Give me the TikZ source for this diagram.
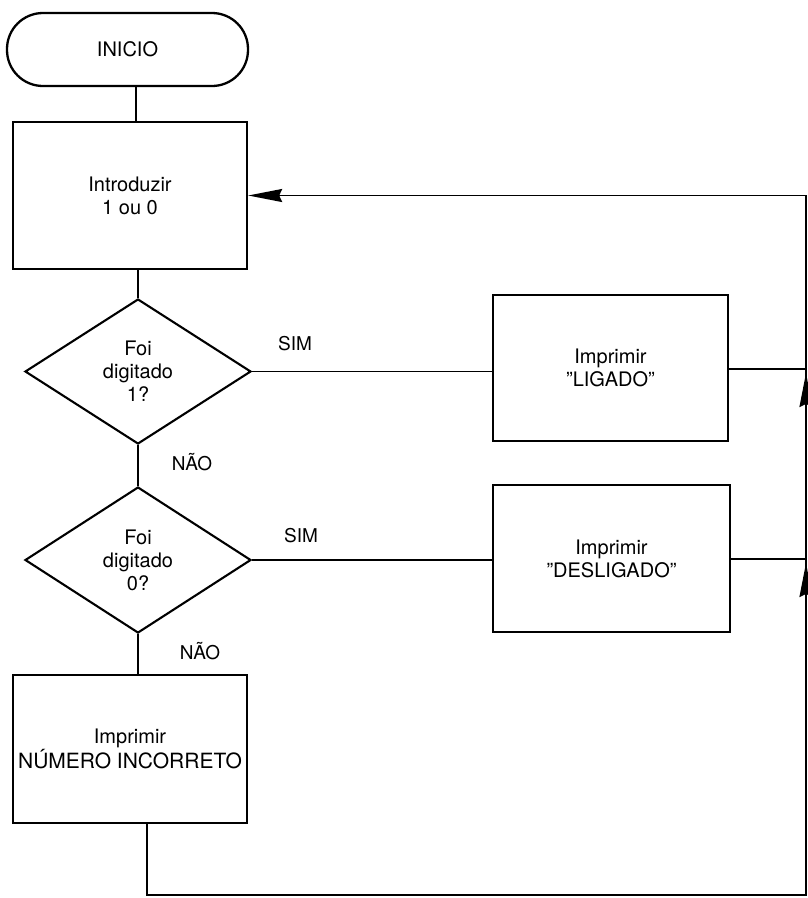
\documentclass[tikz,border=0pt]{standalone}
\usepackage{fontspec}
\setmainfont{TeX Gyre Heros}
\usetikzlibrary{shapes.geometric,arrows.meta,calc}
\begin{document}
\begin{tikzpicture}[x=1pt,y=-1pt,
  every node/.style={font=\fontsize{20}{23}\selectfont, align=center},
  boxstyle/.style={draw, line width=2.3pt, rectangle, inner sep=0pt},
  termstyle/.style={draw, line width=2.3pt, rectangle, rounded corners=36pt, inner sep=0pt},
  decstyle/.style={draw, line width=2.1pt, diamond, inner sep=0pt},
  conn/.style={line width=1.9pt},
  tip/.style={-{Stealth[length=34pt,width=13pt,inset=3pt]}},
  lbl/.style={font=\fontsize{19}{22}\selectfont}
]
\useasboundingbox[fill=white] (0,0) rectangle (808,898);

\node[termstyle, minimum width=241pt, minimum height=73pt] (ini) at (127.5,49.5) {INICIO};
\node[boxstyle, minimum width=234pt, minimum height=147pt] (intro) at (130,195.5) {Introduzir\\1 ou 0};
\node[decstyle, minimum width=226pt, minimum height=145pt] (d1) at (138,371.5) {Foi\\digitado\\1?};
\node[decstyle, minimum width=226pt, minimum height=146pt] (d2) at (138,560) {Foi\\digitado\\0?};
\node[boxstyle, minimum width=235pt, minimum height=146pt] (l1) at (610.5,368) {Imprimir\\''LIGADO''};
\node[boxstyle, minimum width=237pt, minimum height=147pt] (l2) at (611.5,558.5) {Imprimir\\''DESLIGADO''};
\node[boxstyle, minimum width=234pt, minimum height=148pt] (num) at (130,749) {Imprimir\\{\fontsize{21}{23}\selectfont NÚMERO INCORRETO}};

\coordinate (j1) at (806,369);
\coordinate (j2) at (806,559);
\coordinate (bl) at (147,895);
\coordinate (br) at (806,895);

% vertical connectors
\draw[conn] (ini.south -| 136,0) -- (intro.north -| 136,0);
\draw[conn] (d1.north) -- (d1.north |- intro.south);
\draw[conn] (d1.south) -- (d2.north);
\draw[conn] (d2.south) -- (d2.south |- num.north);

% yes branches
\draw[conn] (d1.east) -- (d1.east -| l1.west);
\draw[conn] (d2.east) -- (d2.east -| l2.west);
\draw[conn] (l1.east |- j1) -- (j1);
\draw[conn] (l2.east |- j2) -- (j2);

% labels
\node[lbl] at (295,344) {SIM};
\node[lbl] at (301,536) {SIM};
\node[lbl] at (192,462) {NÃO};
\node[lbl] at (200,651) {NÃO};

% return path
\draw[conn, tip] (num.south -| bl) -- (bl) -- (br) -- (br |- intro.east) -- (intro.east);

% upward arrowheads on return line
\draw[conn, tip] ($(j1)+(0,40)$) -- ($(j1)+(0,4)$);
\draw[conn, tip] ($(j2)+(0,40)$) -- ($(j2)+(0,4)$);
\end{tikzpicture}
\end{document}
